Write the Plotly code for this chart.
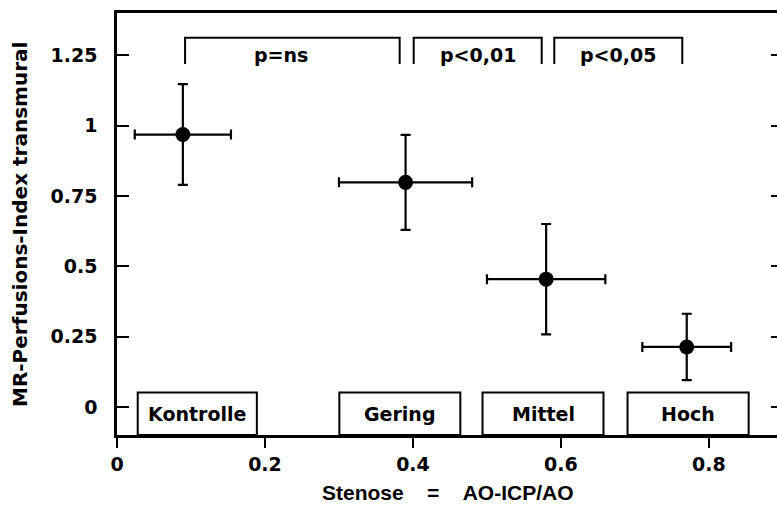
import plotly.graph_objects as go

# Data
groups = ["Kontrolle", "Gering", "Mittel", "Hoch"]
stenose = [0.089, 0.390, 0.580, 0.770]
stenose_err = [0.065, 0.090, 0.080, 0.060]
perfusion = [0.968, 0.798, 0.454, 0.213]
perfusion_err = [0.179, 0.169, 0.196, 0.118]

x_ticks = [0, 0.2, 0.4, 0.6, 0.8]
x_ticktext = ["0", "0.2", "0.4", "0.6", "0.8"]
y_ticks = [0, 0.25, 0.5, 0.75, 1, 1.25]
y_ticktext = ["0", "0.25", "0.5", "0.75", "1", "1.25"]

p_labels = ["p=ns", "p<0,01", "p<0,05"]

# Layout constants
box_x0 = [0.028, 0.3005, 0.494, 0.690]
box_x1 = [0.189, 0.464, 0.6575, 0.8537]
box_top = 0.051
bracket_x0 = [0.092, 0.401, 0.591]
bracket_x1 = [0.382, 0.574, 0.764]
label_x = [0.222, 0.4875, 0.6775]
bracket_top = 1.312
bracket_bottom = 1.219

tick_font = dict(family="DejaVu Sans", size=19, color="black", weight="bold")
label_font = dict(family="DejaVu Sans", size=19, color="black", weight="bold")

fig = go.Figure()
fig.add_trace(go.Scatter(
    x=stenose, y=perfusion, mode="markers",
    marker=dict(size=15, color="black"),
    error_x=dict(type="data", array=stenose_err, thickness=2.2, width=5, color="black"),
    error_y=dict(type="data", array=perfusion_err, thickness=2.2, width=5, color="black"),
    showlegend=False, hoverinfo="skip",
))
fig.add_trace(go.Scatter(x=[None], y=[None], yaxis="y2", showlegend=False, hoverinfo="skip"))

shapes = []
annotations = []
for g, a, b in zip(groups, box_x0, box_x1):
    shapes.append(dict(type="rect", xref="x", yref="y", x0=a, x1=b, y0=-0.1, y1=box_top,
                       line=dict(color="black", width=2), fillcolor="white", layer="above"))
    annotations.append(dict(x=(a + b) / 2, y=(-0.1 + box_top) / 2, xref="x", yref="y",
                            text=g, showarrow=False, font=label_font,
                            xanchor="center", yanchor="middle"))
for a, b, lx, t in zip(bracket_x0, bracket_x1, label_x, p_labels):
    shapes.append(dict(type="path", xref="x", yref="y",
                       path=f"M {a},{bracket_bottom} L {a},{bracket_top} L {b},{bracket_top} L {b},{bracket_bottom}",
                       line=dict(color="black", width=2)))
    annotations.append(dict(x=lx, y=1.25, xref="x", yref="y", text=t, showarrow=False,
                            font=label_font, xanchor="center", yanchor="middle"))

annotations.append(dict(x=-0.147, y=0.5, xref="paper", yref="paper",
                        text="MR-Perfusions-Index transmural", textangle=-90,
                        showarrow=False, xanchor="center", yanchor="middle",
                        font=dict(family="DejaVu Sans", size=20, color="black", weight="bold")))
annotations.append(dict(x=0.5015, y=-0.137, xref="paper", yref="paper",
                        text="Stenose\u00a0\u00a0\u00a0\u00a0=\u00a0\u00a0\u00a0\u00a0AO-ICP/AO",
                        showarrow=False, xanchor="center", yanchor="middle",
                        font=dict(family="Liberation Sans", size=21, color="black", weight="bold")))

fig.update_layout(
    width=777, height=505,
    margin=dict(l=117, r=0, t=13, b=70, pad=0),
    paper_bgcolor="white", plot_bgcolor="white",
    shapes=shapes, annotations=annotations,
    xaxis=dict(range=[0, 0.892], tickvals=x_ticks, ticktext=x_ticktext,
               showline=True, linecolor="black", linewidth=2.5, mirror=True,
               ticks="outside", ticklen=10, tickwidth=2, tickcolor="black",
               showgrid=False, zeroline=False, tickfont=tick_font),
    yaxis=dict(range=[-0.1, 1.4], tickvals=y_ticks, ticktext=y_ticktext,
               showline=True, linecolor="black", linewidth=2.5, mirror=False,
               ticks="inside", ticklen=12, tickwidth=2, tickcolor="black",
               showgrid=False, zeroline=False, tickfont=tick_font,
               ticklabelstandoff=13),
    yaxis2=dict(range=[-0.1, 1.4], tickvals=y_ticks, overlaying="y", side="right",
                showline=False, ticks="inside", ticklen=6, tickwidth=2, tickcolor="black",
                showticklabels=False, showgrid=False, zeroline=False),
)

fig.write_html("out.html")
